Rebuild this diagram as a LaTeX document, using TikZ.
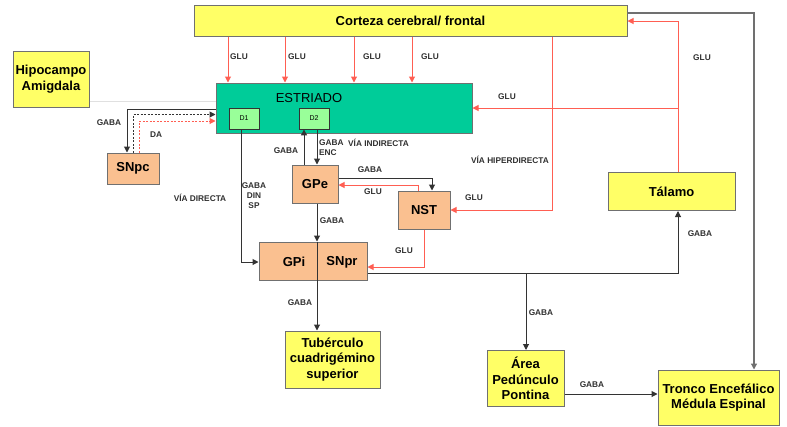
\documentclass[tikz,border=0pt]{standalone}
\usepackage{fontspec}
\setmainfont{Liberation Sans}
\usetikzlibrary{arrows.meta}
\definecolor{yel}{HTML}{FFFF66}
\definecolor{peach}{HTML}{FAC090}
\definecolor{tealg}{HTML}{00CC99}
\definecolor{lgreen}{HTML}{99FF99}
\definecolor{bord}{HTML}{707070}
\definecolor{redl}{HTML}{FF5E52}
\definecolor{darkl}{HTML}{333333}
\definecolor{labc}{HTML}{303030}
\tikzset{
  box/.style={draw=bord, line width=1pt, inner sep=0pt, align=center,
    font=\bfseries\fontsize{13}{15.5}\selectfont},
  ybox/.style={box, fill=yel},
  pbox/.style={box, fill=peach},
  tbox/.style={box, fill=tealg},
  dbox/.style={draw=darkl, line width=0.8pt, fill=lgreen, inner sep=0pt,
    font=\fontsize{7}{8}\selectfont},
  plain/.style={inner sep=0pt, font=\bfseries\fontsize{13}{15.5}\selectfont},
  lab/.style={inner sep=0pt, align=center, text=labc,
    font=\bfseries\fontsize{8.3}{10}\selectfont},
  tip/.style={-{Triangle[length=6pt,width=6pt]}},
  redarr/.style={draw=redl, line width=1pt, tip},
  blkarr/.style={draw=darkl, line width=1pt, tip},
  grayarr/.style={draw=bord, line width=1.2pt, tip},
}
\begin{document}
\begin{tikzpicture}[x=1pt,y=-1pt]
\useasboundingbox (0,0) rectangle (787,426);
% boxes
\node[ybox, minimum width=433, minimum height=31] (cort) at (410.5,20.5) {Corteza cerebral/ frontal};
\node[ybox, minimum width=76, minimum height=56] (hip) at (51,79) {Hipocampo\\Amigdala};
\node[tbox, minimum width=256, minimum height=50] (estr) at (344,108) {};
\node[inner sep=0pt, font=\fontsize{13}{15}\selectfont] (estrt) at (309,98) {ESTRIADO};
\node[dbox, minimum width=30, minimum height=21] (d1) at (244,118.5) {D1};
\node[dbox, minimum width=30, minimum height=21] (d2) at (314,118.5) {D2};
\node[pbox, minimum width=52, minimum height=31] (snpc) at (133,168.5) {SNpc};
\node[pbox, minimum width=46, minimum height=38] (gpe) at (315,184) {GPe};
\node[pbox, minimum width=52, minimum height=38] (nst) at (424,210) {NST};
\node[pbox, minimum width=108, minimum height=38] (gpi) at (313,261) {};
\node[plain] (gpit) at (294,262) {GPi};
\node[plain] (snprt) at (342,262) {SNpr};
\draw[draw=darkl, line width=0.9pt] (gpi.north -| 317,0) -- (gpi.south -| 317,0);
\node[ybox, minimum width=95, minimum height=57] (tub) at (332.5,359.5) {Tubérculo\\cuadrigémino\\superior};
\node[ybox, minimum width=127, minimum height=38] (tal) at (671.5,191.5) {Tálamo};
\node[ybox, minimum width=77, minimum height=56] (area) at (525.5,378.5) {Área\\Pedúnculo\\Pontina};
\node[ybox, minimum width=121, minimum height=55] (tron) at (718.5,397.5) {Tronco Encefálico\\Médula Espinal};

% cortex -> striatum
\foreach \xx in {228,285,354,412}
  \draw[redarr] (cort.south -| \xx,0) -- (estr.north -| \xx,0);
\node[lab] (l1) at (239,57) {GLU};
\node[lab] (l2) at (297,57) {GLU};
\node[lab] (l3) at (372,57) {GLU};
\node[lab] (l4) at (430,57) {GLU};

% hyperdirect
\draw[redarr] (cort.south -| 552,0) |- (nst.east);
\node[lab] (lhd) at (510,160) {VÍA HIPERDIRECTA};
\node[lab] (lhg) at (474,198) {GLU};

% thalamus -> cortex / striatum
\coordinate (tb) at (678,108);
\draw[redarr] (tal.north -| 678,0) |- (cort.east |- 0,21);
\draw[redarr] (tb) -- (estr.east |- tb);
\node[lab] (lt1) at (702,58) {GLU};
\node[lab] (lt2) at (507,97) {GLU};

% cortex -> tronco
\draw[grayarr] (cort.east |- 0,13) -| (tron.north -| 754,0);

% hipocampo faint
\draw[draw=black!12, line width=0.8pt] (hip.east |- 0,101) -- (estr.west |- 0,101);

% SNpc
\draw[blkarr] (estr.west |- 0,109) -| (snpc.north -| 127,0);
\draw[blkarr, dash pattern=on 2pt off 1.5pt] (snpc.north -| 133,0) |- (estr.west |- 0,114.5);
\draw[redarr, dash pattern=on 2pt off 1.5pt] (snpc.north -| 139,0) |- (estr.west |- 0,121);
\node[lab] (lg1) at (109,123) {GABA};
\node[lab] (lda) at (156,135) {DA};

% direct pathway
\draw[blkarr] (d1.south -| 241,0) |- (gpi.west |- 0,262);
\node[lab, align=center] (ldir) at (254,195.5) {GABA\\DIN\\SP};
\node[lab] (lvd) at (200,198) {VÍA DIRECTA};

% indirect pathway
\draw[blkarr] (gpe.north -| 304,0) -- (d2.south -| 304,0);
\draw[blkarr] (d2.south -| 317,0) -- (gpe.north -| 317,0);
\node[lab] (lg2) at (286,151) {GABA};
\node[lab, align=left, anchor=west] (lenc) at (319,147.5) {GABA\\ENC};
\node[lab, anchor=west] (lvi) at (348,143) {VÍA INDIRECTA};

\draw[blkarr] (gpe.east |- 0,178) -| (nst.north -| 432,0);
\draw[redarr] (nst.north -| 418,0) |- (gpe.east |- 0,185);
\node[lab] (lg3) at (370,170) {GABA};
\node[lab] (lg4) at (373,192) {GLU};

\draw[blkarr] (gpe.south -| 317,0) -- (gpi.north -| 317,0);
\node[lab] (lg5) at (332,221) {GABA};

\draw[redarr] (nst.south -| 424,0) |- (gpi.east |- 0,267);
\node[lab] (lg6) at (404,251) {GLU};

% outputs
\coordinate (br) at (526,273);
\draw[blkarr] (gpi.east |- br) -| (tal.south -| 678,0);
\draw[blkarr] (br) -- (area.north -| br);
\node[lab] (lg7) at (700,234) {GABA};
\node[lab] (lg8) at (541,313) {GABA};

\draw[blkarr] (gpi.south -| 317,0) -- (tub.north -| 317,0);
\node[lab] (lg9) at (300,303) {GABA};

\draw[blkarr] (area.east |- 0,394) -- (tron.west |- 0,394);
\node[lab] (lg10) at (592,385) {GABA};
\end{tikzpicture}
\end{document}
